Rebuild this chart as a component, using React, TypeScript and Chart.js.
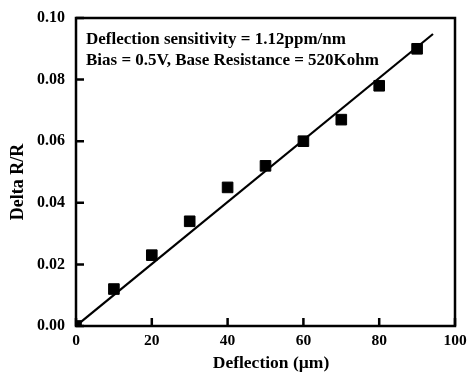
import React, { useEffect, useRef } from "react";
import { Chart, registerables } from "chart.js";

Chart.register(...registerables);

const deflection = [0, 10, 20, 30, 40, 50, 60, 70, 80, 90];
const deltaRR = [0, 0.012, 0.023, 0.034, 0.045, 0.052, 0.06, 0.067, 0.078, 0.09];
const fitX = [0, 94.2];
const fitY = [0, 0.0948];
const xTicks = [0, 20, 40, 60, 80, 100];
const yTicks = [0, 0.02, 0.04, 0.06, 0.08, 0.1];
const annotationLines = [
  "Deflection sensitivity = 1.12ppm/nm",
  "Bias = 0.5V, Base Resistance = 520Kohm",
];
const xTitle = "Deflection (\u00b5m)";
const yTitle = "Delta R/R";

const FONT = "'Liberation Serif', 'Times New Roman', serif";

const framePlugin = {
  id: "frame",
  afterDraw(chart: any) {
    const { ctx, chartArea } = chart;
    const { left, right, top, bottom } = chartArea;
    const xs = chart.scales.x;
    const ys = chart.scales.y;
    ctx.save();
    ctx.strokeStyle = "#000";
    ctx.lineWidth = 2.5;
    ctx.strokeRect(left, top, right - left, bottom - top);
    ctx.beginPath();
    xTicks.forEach((v) => {
      const px = xs.getPixelForValue(v);
      ctx.moveTo(px, bottom);
      ctx.lineTo(px, bottom - 8);
    });
    yTicks.forEach((v) => {
      const py = ys.getPixelForValue(v);
      ctx.moveTo(left, py);
      ctx.lineTo(left + 8, py);
    });
    ctx.stroke();
    ctx.fillStyle = "#000";
    ctx.font = `bold 17px ${FONT}`;
    ctx.textAlign = "left";
    ctx.textBaseline = "middle";
    annotationLines.forEach((t, i) => {
      ctx.fillText(t, left + 10, 40 + i * 21);
    });
    ctx.font = `bold 17.5px ${FONT}`;
    ctx.textAlign = "center";
    ctx.fillText(xTitle, 271, 363);
    ctx.translate(18, 182);
    ctx.rotate(-Math.PI / 2);
    ctx.font = `bold 18px ${FONT}`;
    ctx.fillText(yTitle, 0, 0);
    ctx.restore();
  },
};

export default function App() {
  const ref = useRef<HTMLCanvasElement>(null);
  useEffect(() => {
    const chart = new Chart(ref.current as HTMLCanvasElement, {
      type: "scatter",
      data: {
        datasets: [
          {
            label: "fit",
            data: fitX.map((x, i) => ({ x, y: fitY[i] })),
            showLine: true,
            borderColor: "#000",
            borderWidth: 2.2,
            pointRadius: 0,
          },
          {
            label: "measured",
            data: deflection.map((x, i) => ({ x, y: deltaRR[i] })),
            showLine: false,
            backgroundColor: "#000",
            borderColor: "#000",
            borderWidth: 1,
            pointStyle: "rect",
            pointRadius: 7.5,
          },
        ],
      },
      plugins: [framePlugin],
      options: {
        animation: false,
        responsive: false,
        layout: { padding: { left: 0, right: 13, top: 18, bottom: 0 } },
        plugins: { legend: { display: false }, tooltip: { enabled: false } },
        scales: {
          x: {
            type: "linear",
            min: 0,
            max: 100,
            afterBuildTicks: (s: any) => {
              s.ticks = xTicks.map((v) => ({ value: v }));
            },
            afterFit: (s: any) => {
              s.height = 49;
              s.paddingRight = 0;
              s.paddingLeft = 0;
            },
            grid: { display: false, drawTicks: false },
            border: { display: false },
            ticks: {
              color: "#000",
              padding: 6,
              font: { family: FONT, size: 15.5, weight: "bold" },
              maxRotation: 0,
            },
          },
          y: {
            type: "linear",
            min: 0,
            max: 0.1,
            afterBuildTicks: (s: any) => {
              s.ticks = yTicks.map((v) => ({ value: v }));
            },
            afterFit: (s: any) => {
              s.width = 76;
              s.paddingTop = 0;
              s.paddingBottom = 0;
            },
            grid: { display: false, drawTicks: false },
            border: { display: false },
            ticks: {
              color: "#000",
              padding: 11,
              font: { family: FONT, size: 16, weight: "bold" },
              callback: (v: any) => Number(v).toFixed(2),
            },
          },
        },
      },
    } as any);
    return () => chart.destroy();
  }, []);
  return (
    <div style={{ position: "fixed", left: 0, top: 0, width: 468, height: 375, background: "#fff" }}>
      <canvas ref={ref} width={468} height={375} />
    </div>
  );
}
